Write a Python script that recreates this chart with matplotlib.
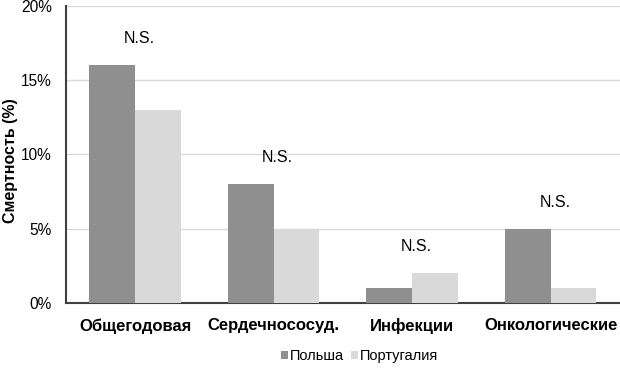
import matplotlib
matplotlib.use('Agg')
import matplotlib.pyplot as plt
import numpy as np
from matplotlib.ticker import FuncFormatter

plt.rcParams['font.family'] = ['Liberation Sans', 'DejaVu Sans']

categories = ['Общегодовая', 'Сердечнососуд.', 'Инфекции', 'Онкологические']
poland = [16, 8, 1, 5]
portugal = [13, 5, 2, 1]
sig_labels = ['N.S.', 'N.S.', 'N.S.', 'N.S.']

fig = plt.figure(figsize=(6.2, 3.7), dpi=100)
ax = fig.add_axes([0.106, 0.181, 0.894, 0.803])

x = np.arange(len(categories))
w = 0.33
ax.bar(x - w / 2, poland, w, color='#8f8f8f', label='Польша', zorder=3)
ax.bar(x + w / 2, portugal, w, color='#d9d9d9', label='Португалия', zorder=3)

for i, lab in enumerate(sig_labels):
    top = max(poland[i], portugal[i])
    ax.text(x[i] + 0.03, top + 1.8, lab, ha='center', va='center', fontsize=11.5)

ax.set_xlim(-0.5, len(categories) - 0.5)
ax.set_ylim(0, 20)
ax.set_yticks([0, 5, 10, 15, 20])
ax.yaxis.set_major_formatter(FuncFormatter(lambda v, p: '%d%%' % v))
ax.set_xticks(x)
ax.set_xticklabels(categories, fontsize=12, fontweight='bold')
ax.tick_params(axis='x', length=0, pad=11)
ax.tick_params(axis='y', length=0, labelsize=11.2, pad=10)
ax.grid(axis='y', color='#d9d9d9', linewidth=1, zorder=0)

for s in ['top', 'right']:
    ax.spines[s].set_visible(False)
for s in ['left', 'bottom']:
    ax.spines[s].set_color('#404040')
    ax.spines[s].set_linewidth(1.5)

ax.set_ylabel('Смертность (%)', fontsize=11.5, fontweight='bold',
              va='center', ha='center')
ax.yaxis.set_label_coords(-0.099, 0.48)

fig.legend(loc='center', bbox_to_anchor=(0.58, 0.037), ncol=2, frameon=False,
           fontsize=10.5, handlelength=0.45, handleheight=0.45, handletextpad=0.15,
           columnspacing=0.5)

fig.savefig('out.png', dpi=100)
